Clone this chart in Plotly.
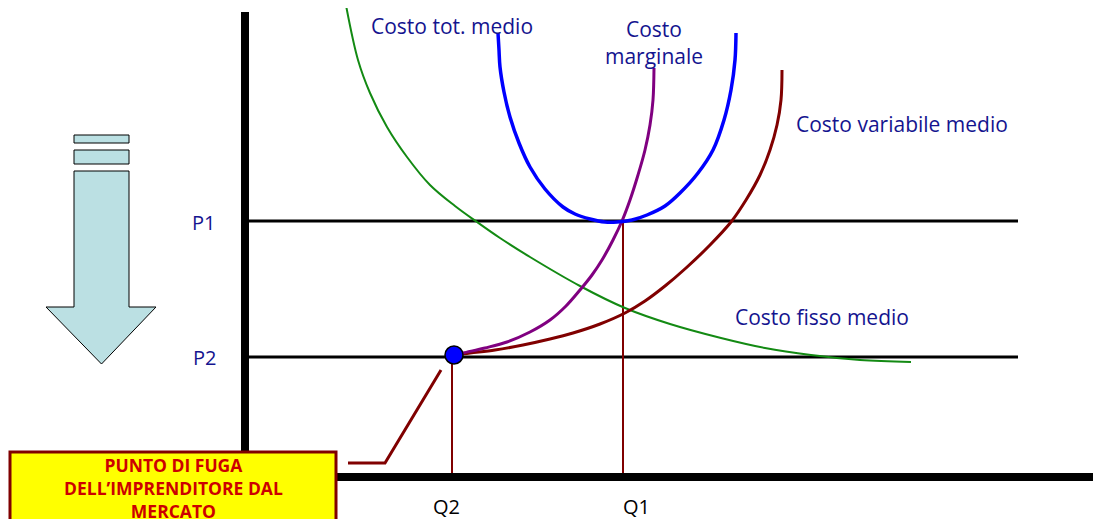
import plotly.graph_objects as go

# curves (pixel space, y grows downward)
cfm_x = [345, 358, 370, 387, 407, 430, 455, 477, 500, 530, 580, 625, 670, 721, 765, 811, 860, 911]
cfm_y = [0, 60, 93, 127, 157, 185, 206, 222, 238, 257, 286, 308, 324, 338, 348, 355, 360, 362]

ctm_x = [498, 499, 500, 504, 510, 519, 530, 545, 563, 575, 590, 605, 617, 632, 647, 665, 680, 698, 713, 724, 731, 735, 736]
ctm_y = [33, 50, 67, 92, 117, 143, 167, 189, 207, 214, 219, 222, 222, 220, 215, 206, 193, 173, 150, 120, 90, 60, 33]

cm_x = [455, 463, 485, 507, 530, 550, 566, 580, 592, 602, 613, 622, 630, 638, 645, 650, 653, 654]
cm_y = [355, 353, 348, 342, 332, 320, 306, 290, 275, 260, 240, 221, 200, 175, 150, 125, 100, 68]

cvm_x = [455, 470, 495, 523, 550, 573, 600, 625, 645, 665, 686, 710, 731, 746, 760, 770, 777, 781, 782]
cvm_y = [355, 353, 350, 345, 339, 333, 324, 313, 301, 286, 268, 245, 222, 200, 175, 150, 125, 100, 70]

prices = {"P1": 221, "P2": 357}
quantities = {"Q2": 452, "Q1": 623}
fuga = (454, 355)
box_lines = ["PUNTO DI FUGA", "DELL\u2019IMPRENDITORE DAL", "MERCATO"]

navy = "#14148f"
dred = "#800000"
fnt = "Comic Sans MS, Open Sans, sans-serif"

fig = go.Figure()

fig.add_trace(go.Scatter(x=cfm_x, y=cfm_y, mode="lines", line=dict(color="#138a13", width=2, shape="spline")))
fig.add_trace(go.Scatter(x=cvm_x, y=cvm_y, mode="lines", line=dict(color=dred, width=3, shape="spline")))
fig.add_trace(go.Scatter(x=cm_x, y=cm_y, mode="lines", line=dict(color="#800080", width=3, shape="spline")))
fig.add_trace(go.Scatter(x=ctm_x, y=ctm_y, mode="lines", line=dict(color="#0000ff", width=3.5, shape="spline")))
fig.add_trace(go.Scatter(x=[fuga[0]], y=[fuga[1]], mode="markers",
                         marker=dict(size=18, color="#0000ff", line=dict(color="black", width=1.5))))

shapes = []
# axes
shapes.append(dict(type="line", x0=245, x1=245, y0=12, y1=480, line=dict(color="black", width=8)))
shapes.append(dict(type="line", x0=241, x1=1110, y0=477, y1=477, line=dict(color="black", width=8)))
# price lines
for name, py in prices.items():
    shapes.append(dict(type="line", x0=249, x1=1018, y0=py, y1=py, line=dict(color="black", width=3), layer="below"))
# quantity drops
shapes.append(dict(type="line", x0=quantities["Q2"], x1=quantities["Q2"], y0=prices["P2"], y1=473,
                   line=dict(color=dred, width=2), layer="below"))
shapes.append(dict(type="line", x0=quantities["Q1"], x1=quantities["Q1"], y0=prices["P1"], y1=473,
                   line=dict(color=dred, width=2), layer="below"))
# leader line
shapes.append(dict(type="path", path="M 348 463 L 385 463 L 441 370", line=dict(color=dred, width=3)))
# arrow
arrow_fill = "#bbe0e3"
shapes.append(dict(type="rect", x0=74, x1=129, y0=135, y1=143, fillcolor=arrow_fill, line=dict(color="black", width=1)))
shapes.append(dict(type="rect", x0=74, x1=129, y0=150, y1=164, fillcolor=arrow_fill, line=dict(color="black", width=1)))
shapes.append(dict(type="path", path="M 74 171 L 129 171 L 129 307 L 156 307 L 101.5 364 L 46 307 L 74 307 Z",
                   fillcolor=arrow_fill, line=dict(color="black", width=1)))
# box
shapes.append(dict(type="rect", x0=10, x1=336, y0=452, y1=530, fillcolor="#ffff00", line=dict(color=dred, width=3)))

anns = []
def lab(x, y, t, color=navy, size=21, bold=False):
    anns.append(dict(x=x, y=y, text=("<b>%s</b>" % t) if bold else t, showarrow=False,
                     font=dict(family=fnt, size=size, color=color), xanchor="center", yanchor="middle"))

lab(452, 26, "Costo tot. medio")
lab(654, 29, "Costo")
lab(654, 56, "marginale")
lab(902, 124, "Costo variabile medio")
lab(822, 317, "Costo fisso medio")
lab(203, 222, "P1", size=20)
lab(204, 357, "P2", size=20)
lab(446, 506, "Q2", color="black", size=20)
lab(636, 506, "Q1", color="black", size=20)
anns.append(dict(x=173, y=451, yanchor="top", xanchor="center", showarrow=False,
                 text="<br>".join("<b>%s</b>" % s for s in box_lines),
                 font=dict(family=fnt, size=17.5, color="#cc0000")))

# page body has an 8px margin, so the ranges start at 8 to keep pixel positions
fig.update_layout(
    width=1101, height=519,
    margin=dict(l=0, r=0, t=0, b=0),
    paper_bgcolor="white", plot_bgcolor="white",
    showlegend=False,
    xaxis=dict(range=[8, 1109], visible=False, fixedrange=True),
    yaxis=dict(range=[527, 8], visible=False, fixedrange=True),
    shapes=shapes, annotations=anns,
)

fig.write_html("out.html")
